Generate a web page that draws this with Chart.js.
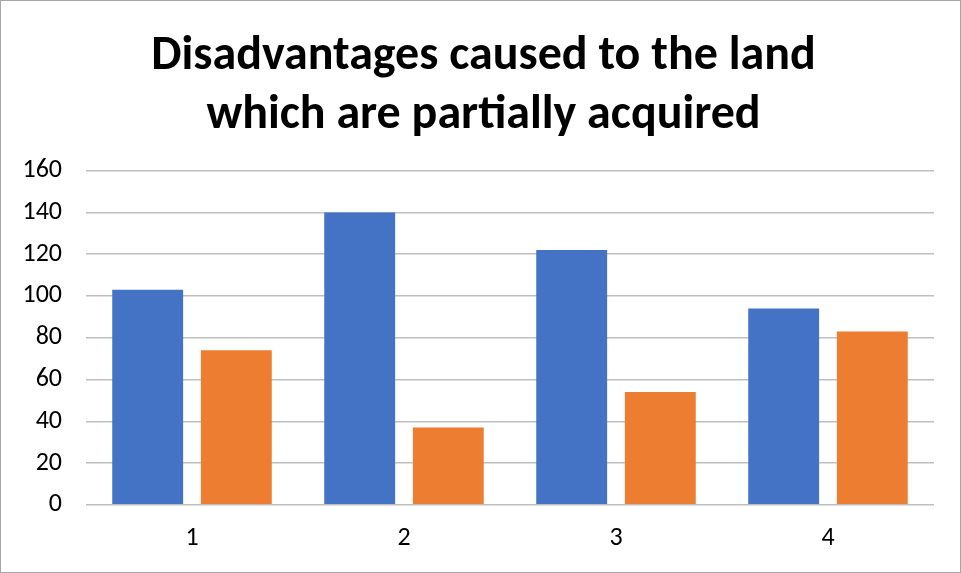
<!DOCTYPE html>
<html lang="en">
<head>
    <meta charset="UTF-8">
    <title>Disadvantages caused to the land</title>
    <script src="https://cdn.jsdelivr.net/npm/chart.js"></script>
    <style>
        html, body {
            margin: 0;
            padding: 0;
            background: white;
        }

        .chart-box {
            width: 961px;
            height: 573px;
            box-sizing: border-box;
            border: 1px solid #a6a6a6;
            position: relative;
        }
    </style>
</head>
<body>
    <div class="chart-box">
        <canvas id="landChart"></canvas>
    </div>

    <script>
        const categories = ['1', '2', '3', '4'];
        const seriesA = [103, 140, 122, 94];
        const seriesB = [74, 37, 54, 83];
        const yTicks = [0, 20, 40, 60, 80, 100, 120, 140, 160];
        const titleLines = ['Disadvantages caused to the land', 'which are partially acquired'];

        const fontFamily = "Carlito, 'Open Sans', 'Liberation Sans', sans-serif";

        new Chart(document.getElementById('landChart'), {
            type: 'bar',
            data: {
                labels: categories,
                datasets: [{
                    label: 'Series 1',
                    data: seriesA,
                    backgroundColor: '#4472c4',
                    categoryPercentage: 0.836,
                    barPercentage: 0.8
                }, {
                    label: 'Series 2',
                    data: seriesB,
                    backgroundColor: '#ed7d31',
                    categoryPercentage: 0.836,
                    barPercentage: 0.8
                }]
            },
            options: {
                responsive: true,
                maintainAspectRatio: false,
                animation: false,
                layout: {
                    padding: { left: 6, right: 0, top: 0, bottom: 0 }
                },
                plugins: {
                    legend: { display: false },
                    tooltip: { enabled: false },
                    title: {
                        display: true,
                        text: titleLines,
                        color: '#000',
                        font: { family: fontFamily, size: 48, weight: 'bold', lineHeight: 1.225 },
                        padding: { top: 27, bottom: 25 }
                    }
                },
                scales: {
                    x: {
                        grid: { display: false, drawTicks: false },
                        border: { display: false },
                        ticks: {
                            color: '#000',
                            font: { family: fontFamily, size: 26 },
                            padding: 18
                        }
                    },
                    y: {
                        min: 0,
                        max: 160,
                        afterBuildTicks: axis => {
                            axis.ticks = yTicks.map(v => ({ value: v }));
                        },
                        afterFit: axis => {
                            axis.width = 79;
                        },
                        grid: {
                            color: '#bfbfbf',
                            lineWidth: 1.5,
                            drawTicks: false
                        },
                        border: { display: false },
                        ticks: {
                            color: '#000',
                            font: { family: fontFamily, size: 26 },
                            padding: 24
                        }
                    },
                    // empty right-hand axis, only keeps the gap at the right of the plot
                    spacer: {
                        type: 'linear',
                        position: 'right',
                        min: 0,
                        max: 160,
                        afterFit: axis => {
                            axis.width = 26;
                        },
                        grid: { display: false, drawTicks: false },
                        border: { display: false },
                        ticks: { display: false }
                    }
                }
            }
        });
    </script>
</body>
</html>
